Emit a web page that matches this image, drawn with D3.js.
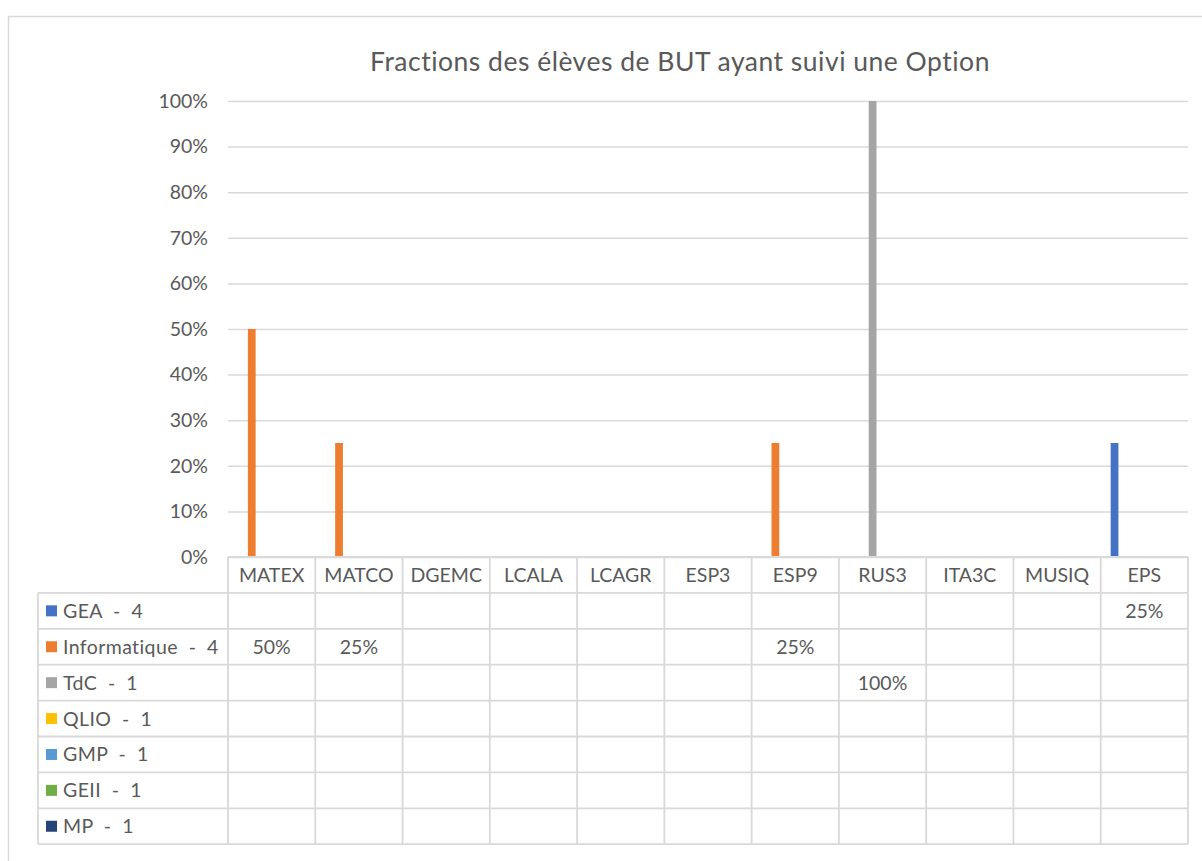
<!DOCTYPE html>
<html>
<head>
<meta charset="utf-8">
<script src="https://cdn.jsdelivr.net/npm/d3@7"></script>
<style>
  body { margin: 0; background: #fff; }
  text { font-family: Lato, "Open Sans", sans-serif; fill: #595959; }
</style>
</head>
<body>
<svg id="chart" width="1202" height="861"></svg>
<script>
const categories = ["MATEX", "MATCO", "DGEMC", "LCALA", "LCAGR", "ESP3", "ESP9", "RUS3", "ITA3C", "MUSIQ", "EPS"];
const seriesNames = ["GEA  -  4", "Informatique  -  4", "TdC  -  1", "QLIO  -  1", "GMP  -  1", "GEII  -  1", "MP  -  1"];
const seriesColors = ["#4472C4", "#ED7D31", "#A5A5A5", "#FFC000", "#5B9BD5", "#70AD47", "#264478"];
// one array per series, null = empty cell
const gea          = [null, null, null, null, null, null, null, null, null, null, 0.25];
const informatique = [0.5, 0.25, null, null, null, null, 0.25, null, null, null, null];
const tdc          = [null, null, null, null, null, null, null, 1.0, null, null, null];
const qlio         = [null, null, null, null, null, null, null, null, null, null, null];
const gmp          = [null, null, null, null, null, null, null, null, null, null, null];
const geii         = [null, null, null, null, null, null, null, null, null, null, null];
const mp           = [null, null, null, null, null, null, null, null, null, null, null];
const yTicks = [0, 0.1, 0.2, 0.3, 0.4, 0.5, 0.6, 0.7, 0.8, 0.9, 1.0];

const seriesValues = [gea, informatique, tdc, qlio, gmp, geii, mp];
const series = seriesNames.map((name, i) => ({ name, color: seriesColors[i], values: seriesValues[i] }));

const svg = d3.select("#chart");
const grid = "#d9d9d9";
const fs = "19.5px";

// chart frame
svg.append("rect")
    .attr("x", 8.5).attr("y", 16.5)
    .attr("width", 1300).attr("height", 1000)
    .attr("fill", "none").attr("stroke", grid).attr("stroke-width", 1.5);

const plotLeft = 228, plotRight = 1188, plotTop = 101, plotBottom = 557;
const rowH = 35.9, tableLeft = 38;

const x0 = d3.scaleBand().domain(categories).range([plotLeft, plotRight]).padding(0);
const x1 = d3.scaleBand().domain(seriesNames).range([0, x0.bandwidth()])
    .paddingInner(0.22).paddingOuter(1.0);
const y = d3.scaleLinear().domain([0, 1]).range([plotBottom, plotTop]);

// title
svg.append("text")
    .attr("x", 680).attr("y", 71)
    .attr("text-anchor", "middle")
    .style("font-size", "26.5px")
    .style("letter-spacing", "0.5px")
    .text("Fractions des élèves de BUT ayant suivi une Option");

// gridlines + y labels
const yAxis = svg.append("g")
    .attr("transform", `translate(${plotLeft},0)`)
    .call(d3.axisLeft(y).tickValues(yTicks).tickFormat(d3.format(".0%"))
        .tickSize(-(plotRight - plotLeft)).tickPadding(20));
yAxis.select(".domain").remove();
yAxis.selectAll(".tick line").attr("stroke", grid).attr("stroke-width", 1.5);
yAxis.selectAll(".tick text").style("font-size", fs).attr("fill", "#595959")
    .style("font-family", "Lato, sans-serif");

// bars
series.forEach(s => {
    svg.append("g").selectAll("rect")
        .data(categories.map((c, i) => ({ c, v: s.values[i] })).filter(d => d.v != null))
        .enter().append("rect")
        .attr("x", d => x0(d.c) + x1(s.name))
        .attr("y", d => y(d.v))
        .attr("width", x1.bandwidth())
        .attr("height", d => y(0) - y(d.v))
        .attr("fill", s.color);
});

// data table
const nRows = series.length;
const tableBottom = plotBottom + rowH * (nRows + 1);
const table = svg.append("g").attr("stroke", grid).attr("stroke-width", 1.8);

// horizontal lines
table.append("line").attr("x1", plotLeft).attr("x2", plotRight).attr("y1", plotBottom).attr("y2", plotBottom);
for (let r = 1; r <= nRows + 1; r++) {
    const yy = plotBottom + rowH * r;
    table.append("line").attr("x1", tableLeft).attr("x2", plotRight).attr("y1", yy).attr("y2", yy);
}
// vertical lines
table.append("line").attr("x1", tableLeft).attr("x2", tableLeft)
    .attr("y1", plotBottom + rowH).attr("y2", tableBottom);
categories.forEach(c => {
    table.append("line").attr("x1", x0(c)).attr("x2", x0(c)).attr("y1", plotBottom).attr("y2", tableBottom);
});
table.append("line").attr("x1", plotRight).attr("x2", plotRight).attr("y1", plotBottom).attr("y2", tableBottom);

// category labels
svg.append("g").selectAll("text")
    .data(categories).enter().append("text")
    .attr("x", d => x0(d) + x0.bandwidth() / 2)
    .attr("y", plotBottom + rowH / 2)
    .attr("dy", "0.36em")
    .attr("text-anchor", "middle")
    .style("font-size", fs)
    .text(d => d);

// legend rows + values
series.forEach((s, i) => {
    const cy = plotBottom + rowH * (i + 1) + rowH / 2;
    svg.append("rect")
        .attr("x", 46).attr("y", cy - 5.5)
        .attr("width", 11).attr("height", 11)
        .attr("fill", s.color);
    svg.append("text")
        .attr("x", 63).attr("y", cy).attr("dy", "0.36em")
        .style("font-size", fs)
        .style("letter-spacing", "0.4px")
        .style("white-space", "pre")
        .text(s.name);
    svg.append("g").selectAll("text")
        .data(categories.map((c, j) => ({ c, v: s.values[j] })).filter(d => d.v != null))
        .enter().append("text")
        .attr("x", d => x0(d.c) + x0.bandwidth() / 2)
        .attr("y", cy).attr("dy", "0.36em")
        .attr("text-anchor", "middle")
        .style("font-size", fs)
        .text(d => d3.format(".0%")(d.v));
});
</script>
</body>
</html>
